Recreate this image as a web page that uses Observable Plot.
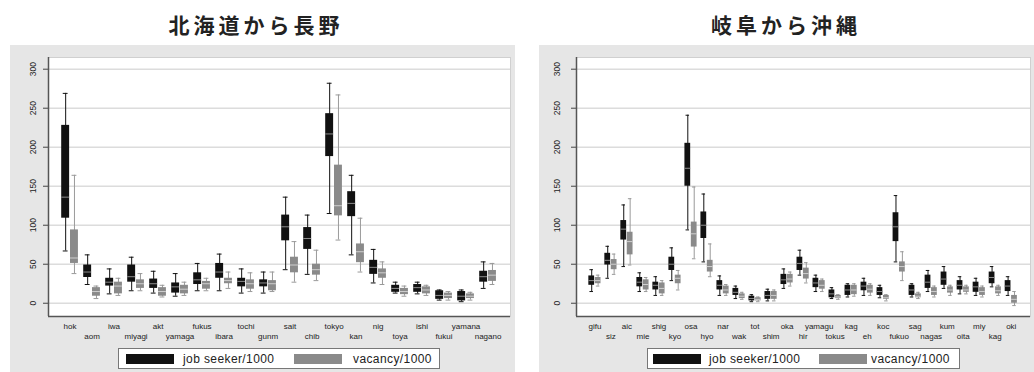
<!DOCTYPE html>
<html><head><meta charset="utf-8">
<script src="https://cdn.jsdelivr.net/npm/d3@7"></script>
<script src="https://cdn.jsdelivr.net/npm/@observablehq/plot@0.6"></script>
<style>
body{margin:0;background:#fff;width:1034px;height:372px;position:relative;overflow:hidden;font-family:"Liberation Sans",Arial,sans-serif}
.title{position:absolute;top:9px;font-family:"Noto Sans CJK JP";font-weight:bold;font-size:21px;letter-spacing:4px;color:#222;white-space:nowrap;transform:translateX(-50%)}
.panel{position:absolute;top:45px;height:327px;background:#e6e6e6}
.panel svg{position:absolute;left:0;top:0}
.legend{position:absolute;top:303px;height:21px;background:#fff;border:1px solid #777;box-sizing:border-box}
.sw{position:absolute;top:5px;width:48px;height:10px}
.lt{position:absolute;top:3px;font-size:12px;letter-spacing:0.4px;color:#222;white-space:nowrap}
</style></head>
<body>
<div class="title" style="left:256px">北海道から長野</div>
<div class="title" style="left:786px">岐阜から沖縄</div>
<div class="panel" id="pL" style="left:10px;width:505px"></div>
<div class="panel" id="pR" style="left:539px;width:495px"></div>
<script>
// Panel 1: Hokkaido to Nagano. Each box: [lower whisker, q1, median, q3, upper whisker]
const leftLabels = ["hok","aom","iwa","miyagi","akt","yamaga","fukus","ibara","tochi","gunm","sait","chib","tokyo","kan","nig","toya","ishi","fukui","yamana","nagano"];
const leftJob = [
  [67,109,136,228,269],[24,33,40,49,62],[12,22,27,32,44],[16,27,34,49,59],[13,19,25,31,41],
  [9,13,21,26,38],[16,24,30,39,51],[16,32,40,51,63],[13,21,28,32,44],[13,21,26,30,40],
  [43,80,98,113,136],[37,69,83,97,113],[115,188,217,243,282],[62,111,128,143,164],[26,37,46,55,69],
  [13,14,19,23,27],[12,14,20,24,27],[4,5,10,16,17],[2,3,9,15,17],[19,27,34,41,53]
];
const leftVac = [
  [38,51,58,94,164],[6,9,15,20,22],[10,12,22,27,32],[16,19,25,30,38],[8,9,15,20,23],
  [10,12,18,23,27],[16,18,25,28,32],[19,25,29,32,40],[15,18,25,30,39],[15,16,25,29,40],
  [27,39,49,59,79],[29,36,43,50,68],[81,112,125,177,267],[40,52,66,76,109],[24,32,39,44,53],
  [9,11,15,19,22],[10,12,17,21,23],[4,6,10,13,15],[4,6,9,12,14],[24,28,36,42,51]
];
// Panel 2: Gifu to Okinawa
const rightLabels = ["gifu","siz","aic","mie","shig","kyo","osa","hyo","nar","wak","tot","shim","oka","hir","yamagu","tokus","kag","eh","koc","fukuo","sag","nagas","kum","oita","miy","kag","oki"];
const rightJob = [
  [15,23,29,35,43],[32,49,55,64,73],[47,81,95,106,126],[15,21,27,33,39],[10,17,23,27,34],
  [29,42,50,59,71],[94,150,173,205,241],[53,83,100,117,140],[10,17,23,29,35],[6,10,14,19,22],
  [2,3,6,9,11],[3,5,10,15,18],[19,24,30,37,44],[36,42,51,59,68],[15,20,26,32,36],
  [6,7,12,17,20],[8,10,17,23,25],[10,16,22,27,32],[7,10,15,20,23],[53,79,98,116,138],
  [8,10,17,23,25],[15,19,27,36,42],[19,23,31,40,47],[12,17,23,29,34],[10,14,21,27,32],
  [21,25,33,40,47],[10,15,22,29,34]
];
const rightVac = [
  [22,25,29,33,36],[37,43,50,56,63],[49,62,79,91,134],[15,17,24,30,33],[10,12,19,26,29],
  [17,25,32,36,42],[57,72,89,104,149],[34,40,47,55,76],[10,12,17,22,24],[5,6,9,12,14],
  [2,3,5,7,8],[3,5,10,15,17],[22,26,31,37,40],[26,31,38,45,52],[15,18,23,29,31],
  [5,6,8,10,11],[9,11,17,23,25],[10,13,18,23,25],[3,5,7,10,11],[29,40,47,53,66],
  [6,7,9,12,14],[8,10,15,20,22],[10,13,17,21,23],[12,14,17,21,23],[8,10,15,20,22],
  [10,12,16,21,23],[-3,0,5,10,15]
];
const yTicks = [0,50,100,150,200,250,300];
const seriesNames = ["job seeker/1000","vacancy/1000"];
const seriesFill = ["#111111","#8a8a8a"];
const seriesLine = ["#111111","#9a9a9a"];
const seriesMed = ["#8c8c8c","#cfcfcf"];

function panel(labels, job, vac, xdom, width, ml, mr, ydx) {
  const rows = [];
  labels.forEach((l, i) => {
    rows.push({i, s: 0, pos: i - 0.2, v: job[i]});
    rows.push({i, s: 1, pos: i + 0.2, v: vac[i]});
  });
  const hw = 0.18, cw = 0.11;
  const idx = labels.map((_, i) => i);
  const ymin = -17;
  return Plot.plot({
    width, height: 300,
    marginLeft: ml, marginRight: mr, marginTop: 12, marginBottom: 29,
    style: {background: "transparent", fontFamily: "Liberation Sans, Arial, sans-serif", fontSize: "8px", color: "#222"},
    x: {domain: xdom, axis: null},
    y: {domain: [ymin, 315], axis: null},
    marks: [
      Plot.frame({fill: "white", stroke: "#d0d0d0"}),
      Plot.gridY(yTicks, {stroke: "#dcdcdc", strokeOpacity: 1, strokeWidth: 1.5}),
      Plot.axisY(yTicks, {tickSize: 5, tickFormat: () => "", stroke: "#444", label: null}),
      Plot.text(yTicks, {y: d => d, text: d => String(d), frameAnchor: "left", dx: ydx, rotate: -90, textAnchor: "middle", lineAnchor: "middle", fontSize: 8.5, fill: "#222"}),
      Plot.axisX(idx.filter(i => i % 2 === 0), {tickSize: 0, tickPadding: 7, tickFormat: i => labels[i], fontSize: 8, label: null}),
      Plot.axisX(idx.filter(i => i % 2 === 1), {tickSize: 0, tickPadding: 17, tickFormat: i => labels[i], fontSize: 8, label: null}),
      Plot.ruleX(rows, {x: "pos", y1: d => d.v[0], y2: d => d.v[4], stroke: d => seriesLine[d.s], strokeWidth: 1}),
      Plot.ruleY(rows, {y: d => d.v[4], x1: d => d.pos - cw, x2: d => d.pos + cw, stroke: d => seriesLine[d.s], strokeWidth: 1}),
      Plot.ruleY(rows, {y: d => d.v[0], x1: d => d.pos - cw, x2: d => d.pos + cw, stroke: d => seriesLine[d.s], strokeWidth: 1}),
      Plot.rect(rows, {x1: d => d.pos - hw, x2: d => d.pos + hw, y1: d => d.v[1], y2: d => d.v[3], fill: d => seriesFill[d.s]}),
      Plot.ruleY(rows, {y: d => d.v[2], x1: d => d.pos - hw, x2: d => d.pos + hw, stroke: d => seriesMed[d.s], strokeWidth: 1}),
      Plot.ruleX([xdom[0]], {stroke: "#555", strokeWidth: 1.5}),
      Plot.ruleY([ymin], {stroke: "#555", strokeWidth: 1.5})
    ]
  });
}

function legend(host, left, width, itemPos) {
  const lg = document.createElement("div");
  lg.className = "legend";
  lg.style.left = left + "px";
  lg.style.width = width + "px";
  seriesNames.forEach((name, k) => {
    const sw = document.createElement("div");
    sw.className = "sw";
    sw.style.left = itemPos[k][0] + "px";
    sw.style.background = seriesFill[k];
    const t = document.createElement("div");
    t.className = "lt";
    t.style.left = itemPos[k][1] + "px";
    t.textContent = name;
    lg.appendChild(sw); lg.appendChild(t);
  });
  host.appendChild(lg);
}

const pL = document.getElementById("pL");
pL.appendChild(panel(leftLabels, leftJob, leftVac, [-0.98, 20.02], 505, 38, 5, -15));
legend(pL, 108, 322, [[7, 64], [175, 234]]);
const pR = document.getElementById("pR");
pR.appendChild(panel(rightLabels, rightJob, rightVac, [-1.15, 27.2], 495, 37, 4, -19));
legend(pR, 108, 313, [[5, 61], [171, 223]]);
</script>
</body></html>
